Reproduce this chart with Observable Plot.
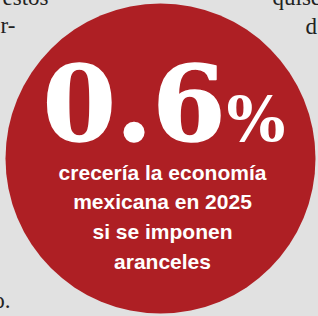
<!DOCTYPE html>
<html>
<head>
<meta charset="utf-8">
<script src="https://cdn.jsdelivr.net/npm/d3@7"></script>
<script src="https://cdn.jsdelivr.net/npm/@observablehq/plot@0.6"></script>
<style>
  html, body { margin: 0; padding: 0; background: #e1e1e1; overflow: hidden; }
</style>
</head>
<body>
<div id="chart"></div>
<script>
const headlineValue = [0.6];
const headlineUnit = ["%"];
const captionLines = ["crecería la economía", "mexicana en 2025", "si se imponen", "aranceles"];
const backgroundWords = ["estos", "r-", "quise", "d", "o."];

const fmt = d3.format(".1f");

const chart = Plot.plot({
  width: 318,
  height: 316,
  margin: 0,
  x: {axis: null},
  y: {axis: null},
  style: {background: "#e1e1e1", overflow: "hidden"},
  marks: [
    // background newspaper fragments
    Plot.text([backgroundWords[0]], {frameAnchor: "top-left", textAnchor: "end", lineAnchor: "bottom", dx: 48, dy: 4, fontSize: 23, fontFamily: "Liberation Serif", fill: "#222"}),
    Plot.text([backgroundWords[1]], {frameAnchor: "top-left", textAnchor: "start", lineAnchor: "bottom", dx: 0, dy: 32, fontSize: 23, fontFamily: "Liberation Serif", fill: "#222"}),
    Plot.text([backgroundWords[2]], {frameAnchor: "top-left", textAnchor: "start", lineAnchor: "bottom", dx: 272, dy: 4, fontSize: 23, fontFamily: "Liberation Serif", fill: "#222"}),
    Plot.text([backgroundWords[3]], {frameAnchor: "top-left", textAnchor: "start", lineAnchor: "bottom", dx: 305, dy: 33, fontSize: 23, fontFamily: "Liberation Serif", fill: "#222"}),
    Plot.text([backgroundWords[4]], {frameAnchor: "top-left", textAnchor: "end", lineAnchor: "bottom", dx: 10, dy: 307, fontSize: 23, fontFamily: "Liberation Serif", fill: "#222"}),
    // red circle
    Plot.dot(headlineValue, {frameAnchor: "middle", dx: 1, r: 155, fill: "#ae1f24", stroke: null}),
    // big number
    Plot.text(headlineValue, {frameAnchor: "middle", text: d => fmt(d), textAnchor: "end", lineAnchor: "bottom", dx: 66, dy: -18, fontSize: 105, fontWeight: 700, fontFamily: "DejaVu Serif", fill: "white", stroke: "white", strokeWidth: 1.5}),
    Plot.text(headlineUnit, {frameAnchor: "middle", textAnchor: "start", lineAnchor: "bottom", dx: 67, dy: -18, fontSize: 62, fontWeight: 700, fontFamily: "DejaVu Serif", fill: "white"}),
    // caption
    Plot.text([captionLines.join("\n")], {frameAnchor: "middle", textAnchor: "middle", lineAnchor: "top", lineHeight: 1.42, dx: 3, dy: 0, fontSize: 21, fontWeight: 700, fontFamily: "Liberation Sans", fill: "white"})
  ]
});
document.getElementById("chart").appendChild(chart);
</script>
</body>
</html>
